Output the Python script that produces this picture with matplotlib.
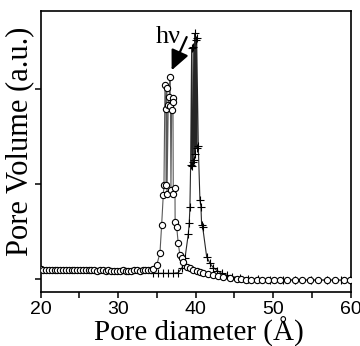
import numpy as np
import matplotlib.pyplot as plt

# pore size distributions (arbitrary units)
# circles: before irradiation
circ_x = [20.0, 20.35, 20.7, 21.05, 21.4, 21.8, 22.15, 22.5, 22.9, 23.25,
          23.6, 24.0, 24.35, 24.7, 25.1, 25.45, 25.8, 26.2, 26.55, 26.9,
          27.3, 27.65, 28.0, 28.4, 28.75, 29.1, 29.5, 29.85, 30.2, 30.6,
          30.95, 31.3, 31.7, 32.05, 32.4, 32.8, 33.15, 33.5, 33.9, 34.25,
          34.55, 34.97, 35.39, 35.61, 35.82, 35.91, 36.04, 36.17, 36.21, 36.26,
          36.30, 36.46, 36.59, 36.68, 36.75, 36.81, 36.90, 37.03, 37.07, 37.11,
          37.33, 37.35, 37.55, 37.75, 37.97, 38.19, 38.40, 38.84, 39.26, 39.69,
          40.13, 40.55, 40.98, 41.63, 42.27, 42.92, 43.56, 44.43, 45.29, 45.9,
          46.5, 47.2, 47.9, 48.6, 49.3, 50.1, 50.9, 51.8, 52.8, 53.7,
          54.8, 55.8, 56.9, 58.0, 59.1, 59.9]
circ_y = [0.105, 0.10, 0.10, 0.098, 0.10, 0.097, 0.10, 0.095, 0.098, 0.096,
          0.10, 0.095, 0.097, 0.095, 0.094, 0.097, 0.095, 0.093, 0.095, 0.094,
          0.092, 0.095, 0.093, 0.09, 0.093, 0.092, 0.09, 0.092, 0.09, 0.093,
          0.09, 0.092, 0.09, 0.093, 0.095, 0.092, 0.095, 0.097, 0.095, 0.10,
          0.105, 0.15, 0.274, 0.572, 0.887, 0.993, 2.045, 1.79, 0.993, 2.01,
          0.895, 1.83, 1.92, 2.126, 1.82, 0.94, 1.78, 1.91, 1.87, 0.895,
          0.96, 0.606, 0.554, 0.379, 0.256, 0.221, 0.185, 0.133, 0.116, 0.098,
          0.087, 0.077, 0.063, 0.053, 0.042, 0.035, 0.027, 0.011, 0.003, 0.0,
          -0.003, -0.005, -0.005, -0.007, -0.007, -0.008, -0.008, -0.009, -0.009, -0.01,
          -0.01, -0.01, -0.01, -0.012, -0.012, -0.012]

# crosses: after irradiation
cross_x = [34.53, 35.17, 35.82, 36.46, 37.11, 37.75, 38.23, 38.62, 39.05, 39.17,
           39.26, 39.35, 39.48, 39.52, 39.61, 39.69, 39.78, 39.91, 39.91, 40.04,
           40.13, 40.13, 40.34, 40.55, 40.68, 40.77, 40.90, 41.42, 41.85, 42.27,
           42.79, 43.35, 44.00, 44.65, 45.72, 46.75, 48.08, 49.59, 51.26, 52.81,
           54.88, 56.90, 58.75, 59.91]
cross_y = [0.063, 0.063, 0.063, 0.063, 0.063, 0.07, 0.12, 0.221, 0.477, 0.589,
           0.764, 1.203, 2.432, 1.193, 1.238, 2.448, 1.256, 2.589, 1.319, 2.52,
           1.379, 2.537, 1.403, 0.835, 0.764, 0.572, 0.554, 0.238, 0.168, 0.124,
           0.091, 0.063, 0.045, 0.027, 0.019, 0.008, 0.0, -0.002, -0.004, -0.005,
           -0.006, -0.006, -0.007, -0.007]

fig = plt.figure(figsize=(3.6, 3.46), dpi=100)
ax = fig.add_axes([0.113, 0.157, 0.861, 0.81])

ax.plot(cross_x, cross_y, color='0.15', lw=0.8, marker='+', ms=5.5,
        mew=0.8, mec='black', zorder=2)
ax.plot(circ_x, circ_y, color='0.35', lw=0.8, marker='o', ms=4.5,
        mew=0.8, mec='black', mfc='white', zorder=3)

# light arrow
ax.annotate('', xy=(36.9, 2.2), xytext=(38.84, 2.55),
            arrowprops=dict(arrowstyle='-|>,head_length=1.2,head_width=0.55',
                            color='black', lw=1.6, shrinkA=0, shrinkB=0,
                            mutation_scale=10))
ax.text(36.43, 2.49, 'h\u03bd', ha='center', va='baseline',
        fontsize=19, family='Liberation Serif')

ax.set_xlim(20, 60)
ax.set_ylim(-0.13, 2.82)
ax.set_xticks([20, 30, 40, 50, 60])
ax.set_xticks([25, 35, 45, 55], minor=True)
ax.set_yticks([0, 1, 2])
ax.set_yticklabels([])
ax.tick_params(which='both', direction='out', length=4, width=1.1)
ax.tick_params(labelsize=14, pad=3)
for lab in ax.get_xticklabels():
    lab.set_family('Liberation Sans')
for s in ax.spines.values():
    s.set_linewidth(1.2)

ax.set_xlabel('Pore diameter (\u00c5)', fontsize=21, family='Liberation Serif')
ax.xaxis.label.set_va('baseline')
ax.xaxis.set_label_coords(0.51, -0.176)
ax.set_ylabel('Pore Volume (a.u.)', fontsize=22, family='Liberation Serif')
ax.yaxis.set_label_coords(-0.022, 0.538)

fig.savefig('out.png', dpi=100)
